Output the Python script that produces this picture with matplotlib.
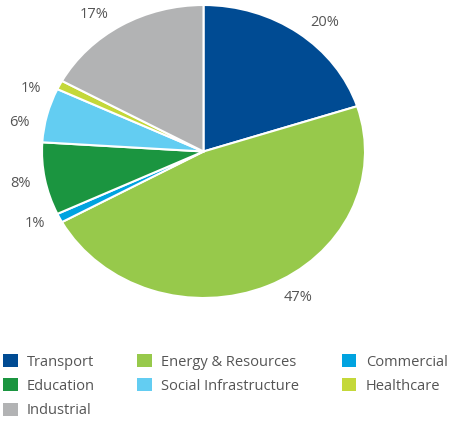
import numpy as np
import matplotlib.pyplot as plt
from matplotlib.patches import Patch

plt.rcParams['font.family'] = ['Open Sans', 'DejaVu Sans']

sectors = ["Transport", "Energy & Resources", "Commercial", "Education",
           "Social Infrastructure", "Healthcare", "Industrial"]
shares = [20, 47, 1, 8, 6, 1, 17]
colors = ["#004B93", "#97C94B", "#00A3E0", "#1B9540", "#63CDF2", "#C4D83A", "#B2B3B4"]

# small angular nudges (degrees) so labels sit like the original
label_nudge = [-4.5, 7.0, -1.7, 0.0, 4.4, 5.0, 5.4]

# order of entries in the legend (column-major, 3 columns)
legend_order = [0, 3, 6, 1, 4, 2, 5]

fig = plt.figure(figsize=(4.6, 4.3), dpi=100)
ax = fig.add_axes([42 / 460, 1 - 298 / 430, 323 / 460, 293 / 430])

wedges, texts = ax.pie(
    shares, colors=colors, startangle=90, counterclock=False,
    wedgeprops=dict(edgecolor="white", linewidth=1.5))
ax.set_aspect("auto")
ax.set_xlim(-1, 1)
ax.set_ylim(-1, 1)

for w, val, nudge in zip(wedges, shares, label_nudge):
    ang = np.deg2rad((w.theta1 + w.theta2) / 2 + nudge)
    r = 1.155
    ax.text(r * np.cos(ang), r * np.sin(ang), f"{val}%", ha="center", va="center",
            color="#555555", fontsize=10.5, clip_on=False)

handles = [Patch(facecolor=colors[i], edgecolor="none") for i in legend_order]
labels = [sectors[i] for i in legend_order]
fig.legend(handles, labels, ncol=3, loc="upper left",
           bbox_to_anchor=(3 / 460, 1 - 354 / 430), frameon=False,
           borderpad=0, borderaxespad=0, handlelength=1.0, handleheight=1.0,
           handletextpad=0.65, labelspacing=0.6, columnspacing=2.9,
           fontsize=10.5, labelcolor="#555555")

fig.savefig("out.png", dpi=100)
